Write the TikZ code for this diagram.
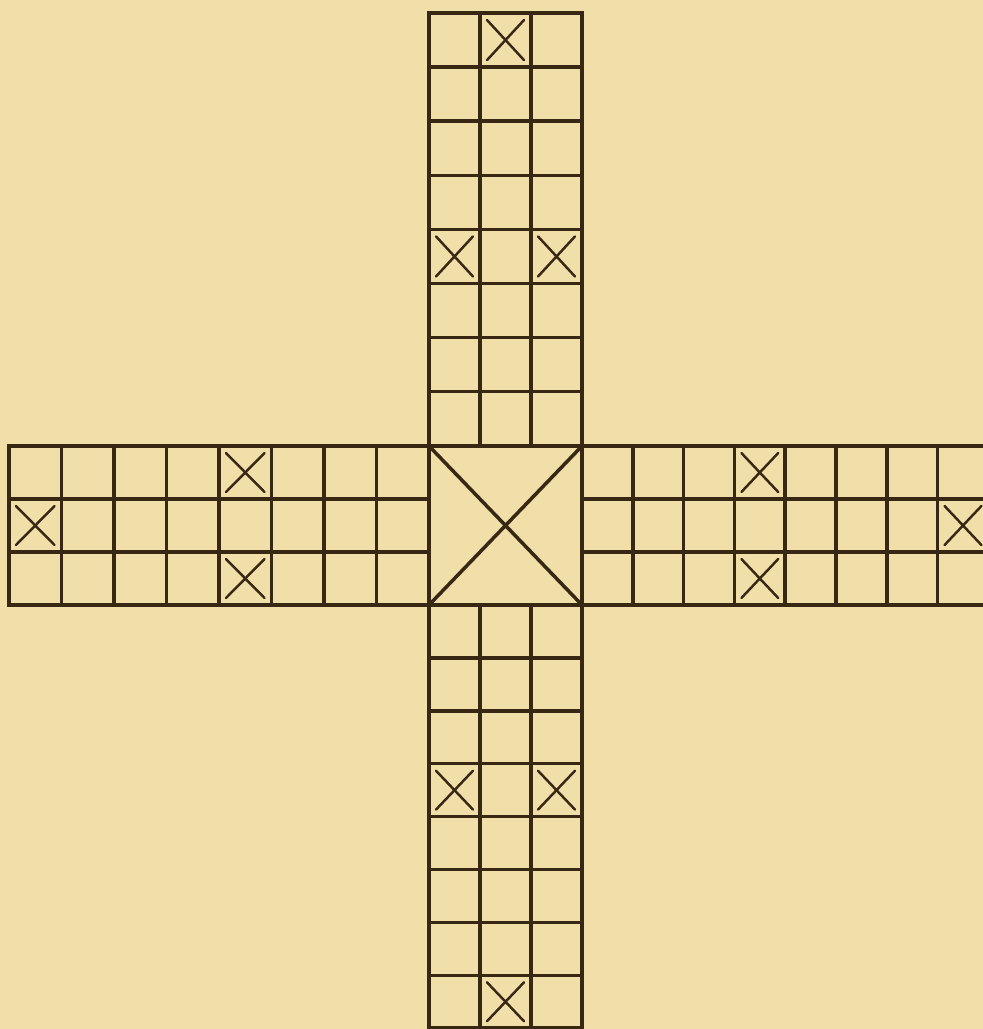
\documentclass[tikz,border=0pt]{standalone}
\definecolor{paper}{RGB}{241,223,170}
\definecolor{ink}{RGB}{56,39,18}
\tikzset{cell/.style={draw=ink,line width=2pt},
  cross/.style={draw=ink,line width=1.4pt,line cap=round}}
% X inside the cell whose top left corner is (#1,#2), size #3 x #4
\newcommand{\boxcross}[4]{\draw[cross] (#1+7,#2+7) -- (#1+#3-7,#2+#4-7) (#1+#3-7,#2+7) -- (#1+7,#2+#4-7);}
\begin{document}
\begin{tikzpicture}[x=0.02cm,y=-0.02cm]
\fill[paper] (0,0) rectangle (983,1029);
\useasboundingbox (0,0) rectangle (983,1029);
\clip (0,0) rectangle (983,1029);
% arms
\foreach \c in {0,1,2} {\foreach \r in {0,...,7} {\draw[cell] (429+51*\c,13+54.1*\r) rectangle ++(51,54.1);}}
\foreach \c in {0,1,2} {\foreach \r in {0,...,7} {\draw[cell] (429+51*\c,605+52.9*\r) rectangle ++(51,52.9);}}
\foreach \c in {0,...,7} {\foreach \r in {0,1,2} {\draw[cell] (9+52.5*\c,446+53*\r) rectangle ++(52.5,53);}}
\foreach \c in {0,...,7} {\foreach \r in {0,1,2} {\draw[cell] (582+50.8*\c,446+53*\r) rectangle ++(50.8,53);}}
% centre
\draw[cell] (429,446) rectangle (582,605) (429,446) -- (582,605) (582,446) -- (429,605);
% marked cells
\boxcross{480}{13}{51}{54.1}
\foreach \x in {429,531} {\boxcross{\x}{229.4}{51}{54.1}}
\foreach \x in {429,531} {\boxcross{\x}{763.7}{51}{52.9}}
\boxcross{480}{975.3}{51}{52.9}
\boxcross{9}{499}{52.5}{53}
\foreach \y in {446,552} {\boxcross{219}{\y}{52.5}{53}}
\foreach \y in {446,552} {\boxcross{734.4}{\y}{50.8}{53}}
\boxcross{937.6}{499}{50.8}{53}
\end{tikzpicture}
\end{document}
